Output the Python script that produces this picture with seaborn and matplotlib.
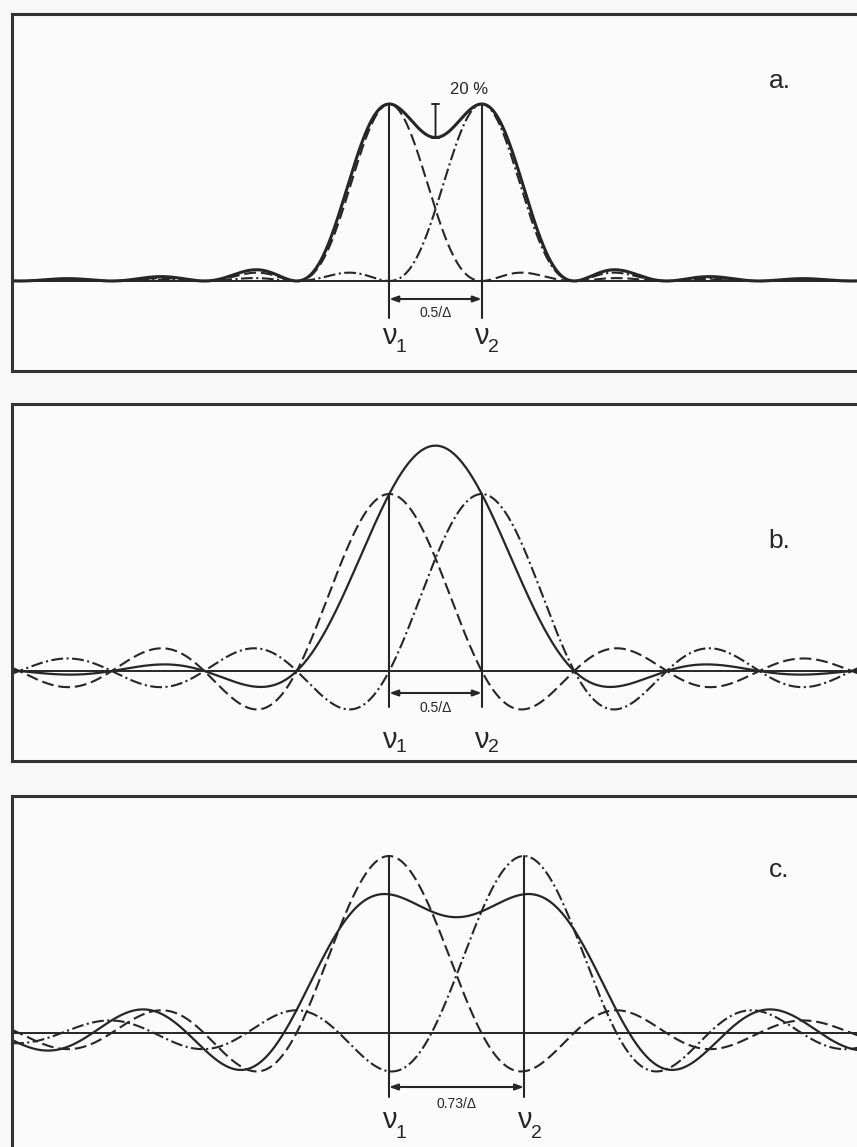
import numpy as np
import pandas as pd
import matplotlib
matplotlib.use("Agg")
import matplotlib.pyplot as plt
import seaborn as sns

sns.set_style("white")
plt.rcParams['font.family'] = ['Liberation Sans', 'DejaVu Sans']
plt.rcParams['lines.scale_dashes'] = False

# ---- data ----
panel_labels = ["a.", "b.", "c."]
separations = [0.5, 0.5, 0.73]            # line separation in units of 1/Delta
sep_texts = ["0.5/\u0394", "0.5/\u0394", "0.73/\u0394"]
line_shape = ["sinc2", "sinc", "sinc"]    # instrument line shape per panel
dip_text = "20 %"
nu_labels = ["\u03bd", "\u03bd"]
nu_subs = ["1", "2"]

INK = "#262626"
PX = 185.0   # pixels per 1/Delta
PY = 177.0   # pixels per unit intensity

fig = plt.figure(figsize=(8.57, 11.47), dpi=100)
fig.patch.set_facecolor("#f8f8f8")
W, H = 857.0, 1147.0

# axes frames in pixels: (left, top, right, bottom), centre pixel, baseline pixel
frames = [
    dict(box=(12, 14, 880, 371), xc=435.5, base=281),
    dict(box=(12, 404, 880, 761), xc=435.5, base=671),
    dict(box=(12, 796, 880, 1153), xc=456.5, base=1033),
]
# annotation offsets in pixels below baseline
ann = [
    dict(vline=37, arrow=18, stext=32, nu=55, sub=67, lab=(780, 81)),
    dict(vline=36, arrow=22, stext=37, nu=69, sub=77, lab=(779, 541)),
    dict(vline=64, arrow=54, stext=71, nu=87, sub=100, lab=(779, 870)),
]

dash = (0, (8.5, 3.5))
dashdot = (0, (8.5, 2.5, 1.5, 2.5))

for i, fr in enumerate(frames):
    l, t, r, b = fr["box"]
    ax = fig.add_axes([l / W, 1 - b / H, (r - l) / W, (b - t) / H])
    ax.set_facecolor("#fbfbfb")
    xc, base = fr["xc"], fr["base"]
    ax.set_xlim((l - xc) / PX, (r - xc) / PX)
    ax.set_ylim(-(b - base) / PY, (base - t) / PY)
    ax.set_xticks([]); ax.set_yticks([])
    for s in ax.spines.values():
        s.set_color("#333333"); s.set_linewidth(2.2)

    sep = separations[i]
    v1, v2 = -sep / 2, sep / 2
    x = np.linspace((l - xc) / PX, (r - xc) / PX, 2000)
    y1 = np.sinc(2 * (x - v1))
    y2 = np.sinc(2 * (x - v2))
    if line_shape[i] == "sinc2":
        y1, y2 = y1 ** 2, y2 ** 2
    ysum = y1 + y2
    df = pd.DataFrame({"x": x, "y1": y1, "y2": y2, "sum": ysum})

    ax.axhline(0, color=INK, lw=1.4, zorder=1)
    sns.lineplot(data=df, x="x", y="y1", ax=ax, color=INK, lw=1.5,
                 linestyle=dash, errorbar=None, sort=False)
    sns.lineplot(data=df, x="x", y="y2", ax=ax, color=INK, lw=1.5,
                 linestyle=dashdot, errorbar=None, sort=False)
    sns.lineplot(data=df, x="x", y="sum", ax=ax, color=INK,
                 lw=2.2 if i == 0 else 1.6, errorbar=None, sort=False)
    ax.set_xlabel(""); ax.set_ylabel("")

    a = ann[i]
    ybot = -a["vline"] / PY
    for v in (v1, v2):
        ax.plot([v, v], [ybot, 1.0], color=INK, lw=1.5)
    ax.annotate("", xy=(v2, -a["arrow"] / PY), xytext=(v1, -a["arrow"] / PY),
                arrowprops=dict(arrowstyle="<|-|>,head_length=0.5,head_width=0.18",
                                color=INK, lw=1.5, shrinkA=0, shrinkB=0))
    ax.text(0, -a["stext"] / PY, sep_texts[i], ha="center", va="center",
            fontsize=10, color=INK)
    for v, nl, ns in zip((v1, v2), nu_labels, nu_subs):
        ax.text(v, -a["nu"] / PY, nl, ha="center", va="center",
                fontsize=21, color=INK)
        ax.text(v + 12 / PX, -a["sub"] / PY, ns, ha="center", va="center",
                fontsize=14, color=INK)
    lx, ly = a["lab"]
    ax.text((lx - xc) / PX, (base - ly) / PY, panel_labels[i], ha="center",
            va="center", fontsize=19, color=INK)

    if i == 0:
        dip = ysum[np.argmin(np.abs(x))]
        ax.annotate("", xy=(0, dip), xytext=(0, 1.0),
                    arrowprops=dict(arrowstyle="|-|,widthA=0.25,widthB=0.25",
                                    color=INK, lw=1.4, shrinkA=0, shrinkB=0))
        ax.text(34 / PX, (base - 89) / PY, dip_text, ha="center", va="center",
                fontsize=12, color=INK)

fig.savefig("out.png", dpi=100, facecolor=fig.get_facecolor())
